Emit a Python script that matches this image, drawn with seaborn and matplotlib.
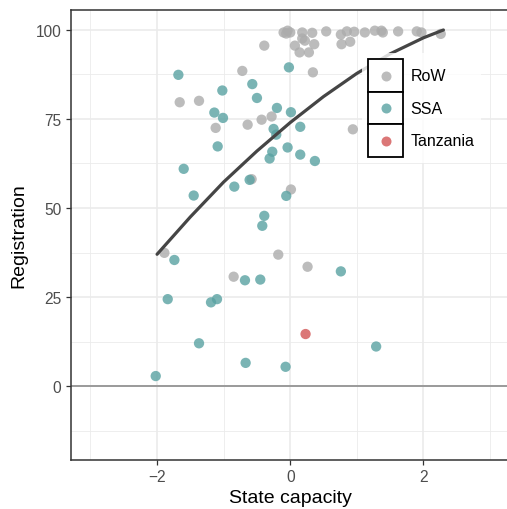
import matplotlib
matplotlib.use("Agg")
import matplotlib.pyplot as plt
from matplotlib.patches import Rectangle
from matplotlib.lines import Line2D
from matplotlib.legend_handler import HandlerBase
import seaborn as sns
import pandas as pd

# ---- data ----
row_x = [-0.10, -0.04, 0.00, -0.06, 0.18, 0.33, 0.54, 0.76, 0.85, 0.96, 1.12, 1.27, 1.37, 1.39,
         1.62, 1.90, 1.97, 2.26, 0.18, 0.22, 0.36, 0.07, 0.77, 0.90, -0.39, 0.14, 0.28, -0.72,
         0.34, -1.66, -1.37, -1.12, -0.64, -0.43, -0.28, 0.94, -0.58, 0.01, -1.89, -0.18, 0.26, -0.85]
row_y = [99.3, 99.8, 99.3, 99.0, 99.3, 99.2, 99.6, 98.7, 99.6, 99.5, 99.3, 99.8, 99.8, 99.3,
         99.6, 99.6, 99.3, 98.9, 97.6, 97.0, 96.0, 95.6, 96.0, 96.7, 95.6, 93.7, 93.7, 88.5,
         88.1, 79.7, 80.1, 72.5, 73.4, 74.8, 75.7, 72.1, 58.1, 55.2, 37.4, 36.9, 33.5, 30.7]
ssa_x = [-1.68, -0.02, -1.02, -0.57, -0.50, -1.14, -1.01, -0.20, 0.01, -0.25, -0.21, 0.15, -1.09,
         -0.04, -0.27, 0.15, 0.37, -0.31, -1.60, -1.45, -0.84, -0.61, -0.06, -0.39, -0.42, -1.74,
         -0.68, -0.45, 0.76, -1.84, -1.19, -1.10, -1.37, -0.67, -0.07, 1.29, -2.02]
ssa_y = [87.4, 89.5, 83.0, 84.8, 80.9, 76.8, 75.3, 78.1, 76.9, 72.2, 70.6, 72.8, 67.3,
         67.0, 65.8, 65.0, 63.2, 63.9, 61.0, 53.5, 56.0, 57.9, 53.4, 47.8, 45.0, 35.4,
         29.7, 29.9, 32.2, 24.4, 23.5, 24.4, 12.0, 6.5, 5.4, 11.1, 2.8]
tza_x = [0.23]
tza_y = [14.6]

curve_x = [-2.0, -1.5, -1.0, -0.5, 0.0, 0.5, 1.0, 1.5, 2.0, 2.3]
curve_y = [37.0, 47.5, 57.3, 66.0, 74.0, 81.3, 87.8, 93.3, 97.8, 100.0]

groups = ["RoW", "SSA", "Tanzania"]
colors = {"RoW": "#ACACAC", "SSA": "#59A2A2", "Tanzania": "#D25555"}

x_ticks = [-2, 0, 2]
y_ticks = [0, 25, 50, 75, 100]

df = pd.DataFrame({
    "State capacity": row_x + ssa_x + tza_x,
    "Registration": row_y + ssa_y + tza_y,
    "group": ["RoW"] * len(row_x) + ["SSA"] * len(ssa_x) + ["Tanzania"] * len(tza_x),
})
curve = pd.DataFrame({"x": curve_x, "y": curve_y})

# ---- figure ----
sns.set_theme(style="white")
plt.rcParams["font.family"] = ["Liberation Sans", "DejaVu Sans"]

W, H = 507, 510
fig = plt.figure(figsize=(W / 100, H / 100), dpi=100)
ax = fig.add_axes([70.5 / W, (H - 460.9) / H, (510 - 70.5) / W, (460.9 - 10.5) / H])

ax.set_xlim(-3.3, 3.3)
ax.set_ylim(-20.75, 105.75)

# grid
for v in [-3, -1, 1, 3]:
    ax.axvline(v, color="#EBEBEB", lw=0.6, zorder=0)
for v in [-12.5, 12.5, 37.5, 62.5, 87.5]:
    ax.axhline(v, color="#EBEBEB", lw=0.6, zorder=0)
for v in x_ticks:
    ax.axvline(v, color="#EBEBEB", lw=1.2, zorder=0)
for v in y_ticks:
    ax.axhline(v, color="#EBEBEB", lw=1.2, zorder=0)

ax.axhline(0, color="#9A9A9A", lw=1.4, zorder=1)

sns.scatterplot(data=df, x="State capacity", y="Registration", hue="group",
                hue_order=groups, palette=colors, s=55, alpha=0.8,
                edgecolor="none", legend=False, ax=ax, zorder=2)

sns.lineplot(data=curve, x="x", y="y", sort=False, estimator=None,
             color="#454545", lw=2.3, ax=ax, zorder=3)

ax.set_xticks(x_ticks)
ax.set_xticklabels(["\u22122", "0", "2"])
ax.set_yticks(y_ticks)
ax.tick_params(axis="both", length=3.5, width=0.9, color="#333333",
               labelcolor="#4D4D4D", labelsize=11.2, pad=3, direction="out",
               bottom=True, left=True)
ax.set_xlabel("State capacity", fontsize=14, color="black", labelpad=4)
ax.set_ylabel("Registration", fontsize=14, color="black", labelpad=6)

for s in ax.spines.values():
    s.set_color("#333333")
    s.set_linewidth(1.1)


class BoxedHandler(HandlerBase):
    def create_artists(self, legend, orig_handle, xdescent, ydescent,
                       width, height, fontsize, trans):
        rect = Rectangle((-xdescent, -ydescent), width, height, facecolor="white",
                         edgecolor="black", lw=1.3, transform=trans)
        dot = Line2D([width / 2 - xdescent], [height / 2 - ydescent], marker="o",
                     markersize=7.2, color=orig_handle.get_color(), alpha=0.8,
                     markeredgewidth=0, linestyle="", transform=trans)
        return [rect, dot]


handles = [Line2D([], [], color=colors[g]) for g in groups]
leg = fig.legend(handles, groups, handler_map={Line2D: BoxedHandler()},
                 loc="upper left", bbox_to_anchor=(362 / W, 1 - 54 / H),
                 fontsize=11.5, handlelength=2.15, handleheight=2.75,
                 labelspacing=0.0, handletextpad=0.5, borderpad=0.4,
                 borderaxespad=0, frameon=True, fancybox=False)
leg.get_frame().set_facecolor("white")
leg.get_frame().set_edgecolor("none")
for t in leg.get_texts():
    t.set_color("black")

fig.savefig("out.png", dpi=100)
